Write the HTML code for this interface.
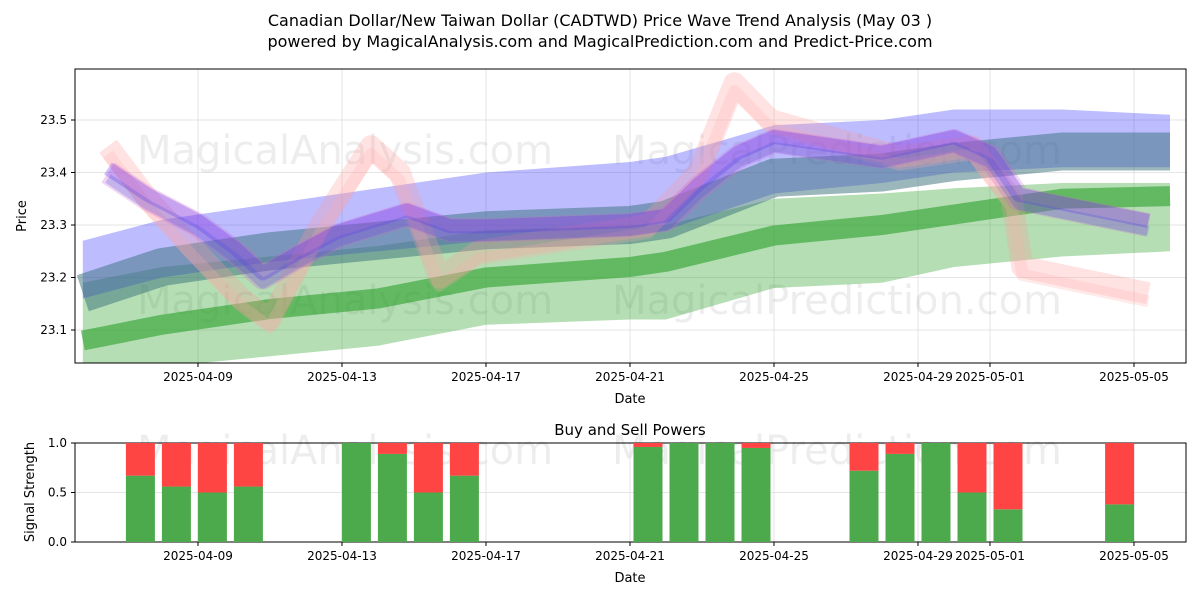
<!DOCTYPE html>
<html><head><meta charset="utf-8"><style>
body{margin:0;background:#fff;font-family:"Liberation Sans","DejaVu Sans",sans-serif}
svg text{font-family:"DejaVu Sans","Liberation Sans",sans-serif}
</style></head><body>
<svg id="c" width="1200" height="600" viewBox="0 0 1200 600" xmlns="http://www.w3.org/2000/svg">
<text x="600" y="26" font-size="16" text-anchor="middle">Canadian Dollar/New Taiwan Dollar (CADTWD) Price Wave Trend Analysis (May 03 )</text>
<text x="600" y="47" font-size="16" text-anchor="middle">powered by MagicalAnalysis.com and MagicalPrediction.com and Predict-Price.com</text>
<g id="top"></g>
<g id="bot"></g>
</svg>
<script>
// x = day offset from 2025-04-09
const xTickLabels=["2025-04-09","2025-04-13","2025-04-17","2025-04-21","2025-04-25","2025-04-29","2025-05-01","2025-05-05"];
const xTickDays=[0,4,8,12,16,20,22,26];
const yTicks=[23.1,23.2,23.3,23.4,23.5];
const greenWideLowDays=[-3.2,-1,2,5,8,12,13,16,19,21,24,27];
const greenWideLow=[23.02,23.03,23.05,23.07,23.11,23.12,23.12,23.18,23.19,23.22,23.24,23.25];
const greenWideHigh=[23.19,23.22,23.24,23.26,23.29,23.30,23.30,23.35,23.36,23.37,23.38,23.38];
const greenMid=[23.08,23.11,23.14,23.16,23.20,23.22,23.23,23.28,23.30,23.32,23.35,23.355];
const blueWideLow=[23.16,23.20,23.23,23.25,23.27,23.28,23.29,23.36,23.38,23.40,23.41,23.41];
const blueWideHigh=[23.27,23.31,23.34,23.37,23.40,23.42,23.43,23.49,23.50,23.52,23.52,23.51];
const tealMid=[23.17,23.22,23.25,23.27,23.29,23.30,23.31,23.39,23.40,23.42,23.44,23.44];
const waveADays=[-2.5,-1.4,0,1,1.8,2.8,3.9,5.8,7,8.1,12,13,13.9,15,16,19,21,22,22.8,26.4];
const waveA=[23.40,23.35,23.30,23.25,23.20,23.24,23.28,23.32,23.29,23.29,23.30,23.31,23.37,23.43,23.46,23.43,23.46,23.43,23.35,23.30];
const waveBDays=[-2.5,-1.4,-0.2,1.2,2,3.4,4.8,5.6,6.7,7.8,12.5,13.9,14.9,15.9,19.5,21.5,22.6,22.9,26.4];
const waveB=[23.45,23.35,23.26,23.16,23.12,23.30,23.45,23.40,23.20,23.25,23.30,23.40,23.57,23.50,23.43,23.45,23.35,23.22,23.17];
const barDays=[-1.6,-0.6,0.4,1.4,4.4,5.4,6.4,7.4,12.5,13.5,14.5,15.5,18.5,19.5,20.5,21.5,22.5,25.6];
const buyPower=[0.67,0.56,0.5,0.56,1.0,0.89,0.5,0.67,0.96,1.0,1.0,0.95,0.72,0.89,1.0,0.5,0.33,0.38];
const sigTicks=[0,0.5,1.0];

const NS="http://www.w3.org/2000/svg";
const L=75,R=1186;
const X=d=>198+36*d;
const Y=v=>120+(23.5-v)*525;
const YB=v=>542-99*v;
function mk(p,t,a){const e=document.createElementNS(NS,t);for(const k in a)e.setAttribute(k,a[k]);p.appendChild(e);return e;}
const tg=document.getElementById('top'),bg=document.getElementById('bot');
const defs=mk(tg,'defs',{});
const cp=mk(defs,'clipPath',{id:'cp'});mk(cp,'rect',{x:L,y:69,width:R-L,height:294});
xTickDays.forEach(d=>{
 const g1=mk(tg,'line',{x1:X(d),x2:X(d),y1:69,y2:363,stroke:'#ddd','stroke-width':0.8});
 
 const g2=mk(bg,'line',{x1:X(d),x2:X(d),y1:443,y2:542,stroke:'#ddd','stroke-width':0.8});
 
});
yTicks.forEach(v=>{const g=mk(tg,'line',{x1:L,x2:R,y1:Y(v),y2:Y(v),stroke:'#ddd','stroke-width':0.8});
 });
sigTicks.forEach(v=>{const g=mk(bg,'line',{x1:L,x2:R,y1:YB(v),y2:YB(v),stroke:'#ddd','stroke-width':0.8});
 });
[[345,150],[837,150],[345,300],[837,300],[345,450],[837,450]].forEach(([x,y],i)=>{
 const t=mk(tg,'text',{x:x,y:y+14,'font-size':40,'text-anchor':'middle',fill:'#000','fill-opacity':0.07});
 t.textContent=i%2?'MagicalPrediction.com':'MagicalAnalysis.com';
 
});
const pg=mk(tg,'g',{'clip-path':'url(#cp)'});
function band(lo,hi,fill,op,name){
 let pts=greenWideLowDays.map((d,i)=>X(d)+','+Y(hi[i]));
 pts=pts.concat(greenWideLowDays.map((d,i)=>X(d)+','+Y(lo[i])).reverse());
 const p=mk(pg,'polygon',{points:pts.join(' '),fill:fill,'fill-opacity':op});
 
}
function line(days,vals,col,w,op,name,dy){
 const p=mk(pg,'polyline',{points:days.map((d,i)=>X(d)+','+(Y(vals[i])+(dy||0))).join(' '),fill:'none',stroke:col,'stroke-width':w,'stroke-opacity':op,'stroke-linejoin':'round','stroke-linecap':'butt'});
 
}
band(greenWideLow,greenWideHigh,'#2ca02c',0.35,'green-wide-band');
line(greenWideLowDays,greenMid,'#2ca02c',20,0.6,'green-mid-band');
band(blueWideLow,blueWideHigh,'#3333ff',0.33,'blue-wide-band');
line(greenWideLowDays,tealMid,'#3a6f7a',38,0.5,'teal-mid-band');
line(waveBDays,waveB,'#ff9999',22,0.28,'pink-wave');
line(waveBDays,waveB,'#ffaaaa',12,0.25,'pink-wave-2',8);
line(waveADays,waveA,'#cc66cc',24,0.28,'purple-wave');
line(waveADays,waveA,'#6633ee',14,0.3,'violet-wave',-4);
line(waveADays,waveA,'#4455dd',10,0.25,'blue-wave',6);
[[69,363,'price-axes-frame'],[443,542,'signal-axes-frame']].forEach(([a,b,n],i)=>{
 const r=mk(i?bg:tg,'rect',{x:L,y:a,width:R-L,height:b-a,fill:'none',stroke:'#000','stroke-width':1});
 
});
yTicks.forEach(v=>{
 mk(tg,'line',{x1:L-4,x2:L,y1:Y(v),y2:Y(v),stroke:'#000'});
 const t=mk(tg,'text',{x:L-8,y:Y(v)+4,'font-size':12,'text-anchor':'end'});t.textContent=v.toFixed(1);
 
});
sigTicks.forEach(v=>{
 mk(bg,'line',{x1:L-4,x2:L,y1:YB(v),y2:YB(v),stroke:'#000'});
 const t=mk(bg,'text',{x:L-8,y:YB(v)+4,'font-size':12,'text-anchor':'end'});t.textContent=v.toFixed(1);
 
});
xTickDays.forEach((d,i)=>{
 [[tg,363],[bg,542]].forEach(([g,yy])=>{
  mk(g,'line',{x1:X(d),x2:X(d),y1:yy,y2:yy+4,stroke:'#000'});
  const t=mk(g,'text',{x:X(d),y:yy+18,'font-size':12,'text-anchor':'middle'});t.textContent=xTickLabels[i];
  
 });
});
barDays.forEach((d,i)=>{
 const cx=X(d),w=29;
 const g=mk(bg,'rect',{x:cx-w/2,y:YB(buyPower[i]),width:w,height:YB(0)-YB(buyPower[i]),fill:'#4caa4c'});
 
 const r=mk(bg,'rect',{x:cx-w/2,y:YB(1),width:w,height:YB(buyPower[i])-YB(1),fill:'#ff4444'});
 
});
function lbl(g,x,y,s,txt,name,rot){const t=mk(g,'text',{x:x,y:y,'font-size':s,'text-anchor':'middle'});
 if(rot)t.setAttribute('transform','rotate(-90 '+x+' '+y+')');t.textContent=txt;
 }
lbl(tg,630,403,13,'Date','x-axis-title');
lbl(tg,26,216,13,'Price','y-axis-title',true);
lbl(bg,630,435,15,'Buy and Sell Powers','signal-title');
lbl(bg,630,582,13,'Date','x-axis-title');
lbl(bg,34,492,13,'Signal Strength','y-axis-title',true);
</script>
</body></html>
